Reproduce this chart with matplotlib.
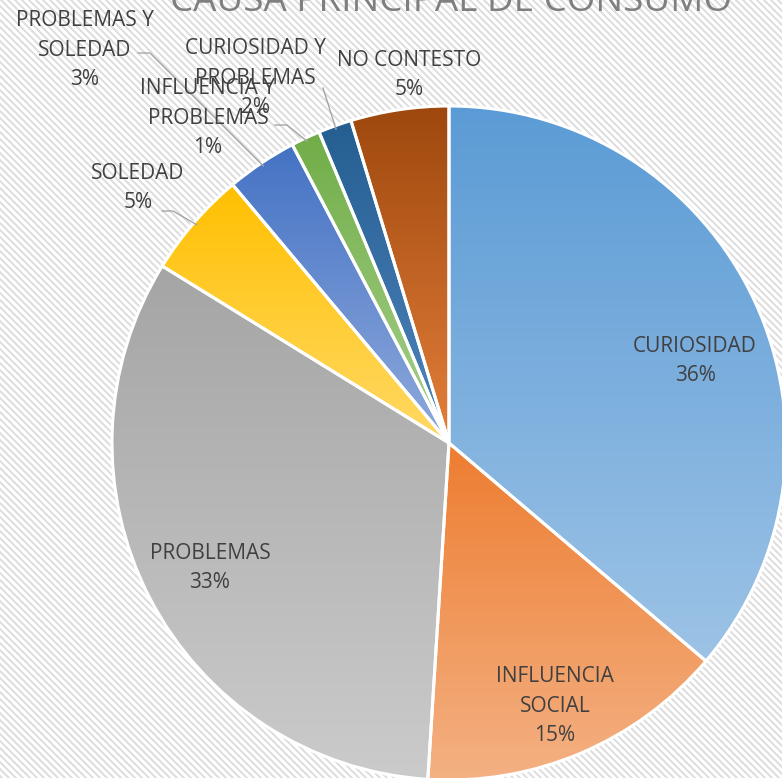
import numpy as np
import matplotlib.pyplot as plt
from matplotlib.colors import to_rgb

# datos
causas = ["CURIOSIDAD", "INFLUENCIA\nSOCIAL", "PROBLEMAS", "SOLEDAD",
          "PROBLEMAS Y\nSOLEDAD", "INFLUENCIA Y\nPROBLEMAS",
          "CURIOSIDAD Y\nPROBLEMAS", "NO CONTESTO"]
porcentajes = [36.2, 14.8, 32.8, 5.1, 3.4, 1.4, 1.6, 4.7]

# colores (arriba -> abajo del degradado)
col_top = ["#5B9BD5", "#ED7D31", "#A5A5A5", "#FFC000",
           "#4472C4", "#70AD47", "#255E91", "#9E480E"]
col_bot = ["#9DC3E6", "#F4B183", "#CBCBCB", "#FFD966",
           "#8FAADC", "#A9D18E", "#4F86BE", "#E47F3A"]

# posiciones de etiquetas (pixeles)
lab_pos = [(695, 361), (555, 706), (210, 568), (138, 188),
           (85, 50), (208, 118), (255, 78), (409, 75)]
# etiquetas con linea guia: (inicio linea, codo)
guias = {3: [(162, 211), (173, 211)],
         4: [(138, 53), (150, 53)],
         5: [(275, 125), (287, 125)],
         6: [(323, 88), (323, 88)]}

W, H = 782, 778
fig = plt.figure(figsize=(W / 100, H / 100), dpi=100)
ax = fig.add_axes([0, 0, 1, 1])

# fondo rayado
yy, xx = np.mgrid[0:H, 0:W]
bg = np.ones((H, W, 3))
bg[((xx - yy) % 7) < 3] = 0.88
ax.imshow(bg, extent=(0, W, H, 0), origin="upper", interpolation="nearest",
          aspect="auto", zorder=0)

cx, cy, R = 449, 443, 337
wedges, _ = ax.pie(porcentajes, center=(cx, cy), radius=R, startangle=-90,
                   counterclock=True,
                   wedgeprops=dict(edgecolor="white", linewidth=2.2))

total = sum(porcentajes)
for i, w in enumerate(wedges):
    ext = w.get_path().transformed(w.get_patch_transform()).get_extents()
    t = np.linspace(0, 1, 256)[:, None, None]
    grad = (1 - t) * np.array(to_rgb(col_top[i])) + t * np.array(to_rgb(col_bot[i]))
    im = ax.imshow(grad, extent=(ext.x0, ext.x1, ext.y1, ext.y0),
                   origin="upper", aspect="auto", zorder=1, interpolation="bilinear")
    im.set_clip_path(w)
    w.set_facecolor("none")
    w.set_zorder(3)

    pct = round(porcentajes[i] / total * 100)
    x, y = lab_pos[i]
    ax.text(x, y, f"{causas[i]}\n{pct}%", ha="center", va="center",
            fontsize=15, family="Open Sans", color="#404040",
            linespacing=1.55, zorder=4)

    if i in guias:
        ang = np.deg2rad((w.theta1 + w.theta2) / 2)
        # eje y invertido -> punto en el borde del sector
        px, py = cx + R * 0.99 * np.cos(ang), cy + R * 0.99 * np.sin(ang)
        p0, p1 = guias[i]
        ax.plot([p0[0], p1[0], px], [p0[1], p1[1], py], color="#A6A6A6",
                lw=1.0, zorder=4)

ax.text(451, 11, "CAUSA PRINCIPAL DE CONSUMO", ha="center", va="baseline",
        fontsize=26.5, family="Open Sans", color="#7F7F7F", zorder=4)

ax.set_xlim(0, W)
ax.set_ylim(H, 0)
ax.axis("off")

fig.savefig("out.png", dpi=100)
